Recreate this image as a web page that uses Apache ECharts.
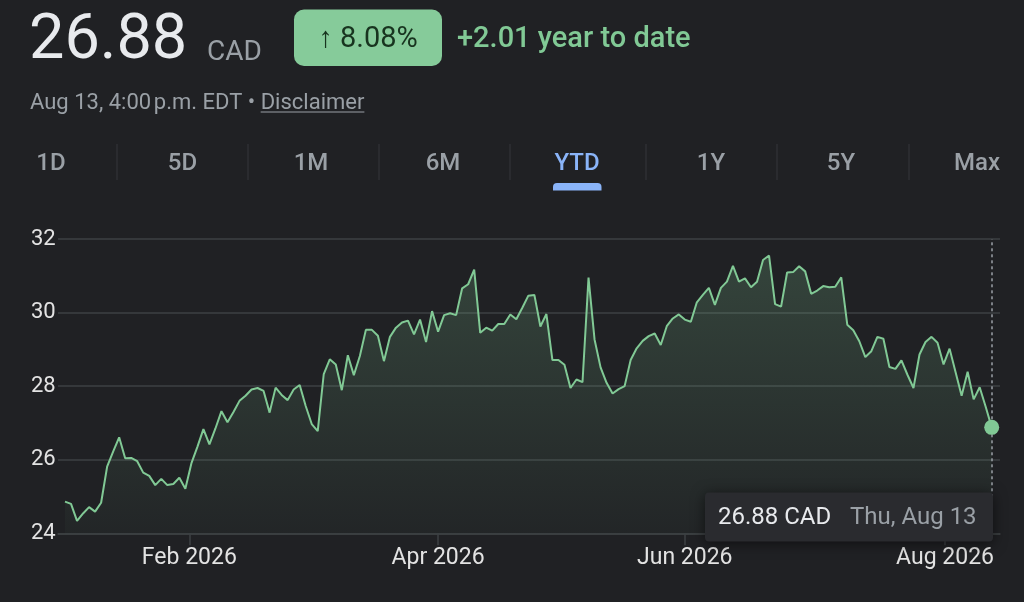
<!DOCTYPE html>
<html>
<head>
<meta charset="utf-8">
<script src="https://cdn.jsdelivr.net/npm/echarts@6/dist/echarts.min.js"></script>
<style>
html,body{margin:0;padding:0;background:#202124;}
#chart{width:1024px;height:602px;}
</style>
</head>
<body>
<div id="chart"></div>
<script>
// ---- Data ----
const startDate = '2026-01-02';
const endDate = '2026-08-13';
const holidays = ['2026-01-01','2026-02-16','2026-04-03','2026-05-18','2026-07-01','2026-08-03'];

const pricesJan = [24.86,24.80,24.34,24.54,24.71,24.59,24.83,25.81,26.22,26.61,26.04,26.05,25.96,25.65,25.56,25.31,25.48,25.31,25.34,25.51,25.21];
const pricesFeb = [25.90,26.35,26.83,26.42,26.85,27.32,27.02,27.30,27.60,27.74,27.91,27.95,27.87,27.28,27.96,27.76,27.62,27.91,28.03];
const pricesMar = [27.46,26.97,26.78,28.33,28.73,28.59,27.89,28.84,28.30,28.82,29.53,29.53,29.37,28.68,29.34,29.59,29.73,29.78,29.41,29.81,29.20,30.04];
const pricesApr = [29.48,29.93,29.98,29.93,30.66,30.77,31.17,29.45,29.59,29.51,29.69,29.69,29.95,29.82,30.13,30.46,30.48,29.62,29.96,28.71,28.71];
const pricesMay = [28.58,27.95,28.18,28.11,30.95,29.27,28.51,28.09,27.80,27.92,28.00,28.71,29.03,29.23,29.36,29.43,29.12,29.63,29.84,29.95];
const pricesJun = [29.81,29.75,30.28,30.48,30.67,30.21,30.67,30.84,31.27,30.84,30.93,30.69,30.84,31.43,31.55,30.23,30.16,31.09,31.10,31.26,31.12,30.51];
const pricesJul = [30.60,30.72,30.69,30.70,30.96,29.67,29.52,29.22,28.79,28.95,29.34,29.29,28.52,28.47,28.70,28.31,27.95,28.86,29.20,29.34,29.18,28.59];
const pricesAug = [29.02,28.38,27.74,28.39,27.64,27.97,27.44,26.88];

const yTicks = [24, 26, 28, 30, 32];
const monthTickDates = ['2026-02-01','2026-04-01','2026-06-01','2026-08-01'];
const monthTickLabels = ['Feb 2026','Apr 2026','Jun 2026','Aug 2026'];

const headerPrice = '26.88';
const headerCurrency = 'CAD';
const headerChangePct = '\u2191 8.08%';
const headerChangeAbs = '+2.01 year to date';
const headerDateLine = 'Aug 13, 4:00\u202Fp.m. EDT \u2022 ';
const headerDisclaimer = 'Disclaimer';
const tabs = ['1D','5D','1M','6M','YTD','1Y','5Y','Max'];
const activeTab = 'YTD';

// ---- Build ----
const prices = [].concat(pricesJan, pricesFeb, pricesMar, pricesApr, pricesMay, pricesJun, pricesJul, pricesAug);
const DAY = 86400000;
function t(s){ const p = s.split('-'); return Date.UTC(+p[0], +p[1]-1, +p[2]); }
const dates = [];
for (let d = t(startDate); d <= t(endDate); d += DAY) {
  const dt = new Date(d);
  const wd = dt.getUTCDay();
  const iso = dt.toISOString().slice(0,10);
  if (wd !== 0 && wd !== 6 && holidays.indexOf(iso) < 0) dates.push(d);
}
function idxForTime(tt){
  for (let i = 0; i < dates.length - 1; i++) {
    if (tt >= dates[i] && tt < dates[i+1]) return i + (tt - dates[i]) / (dates[i+1] - dates[i]);
  }
  return dates.length - 1;
}
const tickIdx = monthTickDates.map(s => idxForTime(t(s)));
const lastIdx = prices.length - 1;
const lastVal = prices[lastIdx];
const lastDate = new Date(dates[lastIdx]);
const wdNames = ['Sun','Mon','Tue','Wed','Thu','Fri','Sat'];
const mNames = ['Jan','Feb','Mar','Apr','May','Jun','Jul','Aug','Sep','Oct','Nov','Dec'];
const lastDateLabel = wdNames[lastDate.getUTCDay()] + ', ' + mNames[lastDate.getUTCMonth()] + ' ' + lastDate.getUTCDate();

const FONT = 'Roboto, "Noto Sans", sans-serif';
const ctx = document.createElement('canvas').getContext('2d');
ctx.font = '400 22px Roboto';
const dateLineW = ctx.measureText(headerDateLine).width;
const disclaimerW = ctx.measureText(headerDisclaimer).width;

// layout (pixels)
const gridLeft = 58, gridRight = 24, gridTop = 239, gridBottom = 68.7;
const firstPx = 65, lastPx = 991.7;
const pxPerIdx = (lastPx - firstPx) / lastIdx;
const xMin = -(firstPx - gridLeft) / pxPerIdx;
const xMax = lastIdx + ((1024 - gridRight) - lastPx) / pxPerIdx;

const gridColor = '#3c4043';
const green = '#81c995';

const tabCenters = [51, 182.5, 311, 443, 577, 711, 841, 977];
const sepXs = [117, 248, 379, 510, 646, 777, 909];

const g = [];
g.push({type:'text', x:29, y:42, style:{text:headerPrice, fill:'#e8eaed', font:'400 63px '+FONT, verticalAlign:'middle', align:'left'}});
g.push({type:'text', x:207, y:53, style:{text:headerCurrency, fill:'#9aa0a6', font:'400 28px '+FONT, verticalAlign:'middle', align:'left'}});
g.push({type:'rect', shape:{x:294, y:9.5, width:148, height:56.5, r:10}, style:{fill:'#86cb9a'}});
g.push({type:'text', x:368, y:40, style:{text:headerChangePct, fill:'#18341f', font:'400 29px '+FONT, verticalAlign:'middle', align:'center'}});
g.push({type:'text', x:457, y:40, style:{text:headerChangeAbs, fill:green, font:'500 29px '+FONT, verticalAlign:'middle', align:'left'}});
g.push({type:'text', x:30, y:103, style:{text:headerDateLine, fill:'#9aa0a6', font:'400 22px '+FONT, verticalAlign:'middle', align:'left'}});
g.push({type:'text', x:30 + dateLineW, y:103, style:{text:headerDisclaimer, fill:'#9aa0a6', font:'400 22px '+FONT, verticalAlign:'middle', align:'left'}});
g.push({type:'line', shape:{x1:30 + dateLineW, y1:112, x2:30 + dateLineW + disclaimerW, y2:112}, style:{stroke:'#9aa0a6', lineWidth:1}});
tabs.forEach((tb, i) => {
  g.push({type:'text', x:tabCenters[i], y:164, style:{text:tb, fill: tb === activeTab ? '#8ab4f8' : '#9aa0a6', font:'500 24px '+FONT, verticalAlign:'middle', align:'center'}});
});
sepXs.forEach(x => g.push({type:'line', shape:{x1:x, y1:144, x2:x, y2:180}, style:{stroke:'#34373a', lineWidth:1}}));
g.push({type:'rect', shape:{x:553, y:183, width:48.5, height:7.5, r:[4,4,0,0]}, style:{fill:'#8ab4f8'}});
// hover card
g.push({type:'rect', z:100, shape:{x:705, y:492.5, width:288, height:49, r:4}, style:{fill:'#2a2b2f', shadowBlur:14, shadowColor:'rgba(0,0,0,0.55)', shadowOffsetY:2}});
g.push({type:'text', z:101, x:718, y:518, style:{text: lastVal.toFixed(2) + ' CAD', fill:'#e8eaed', font:'400 24px '+FONT, verticalAlign:'middle', align:'left'}});
g.push({type:'text', z:101, x:850, y:518, style:{text: lastDateLabel, fill:'#9aa0a6', font:'400 24px '+FONT, verticalAlign:'middle', align:'left'}});

const chart = echarts.init(document.getElementById('chart'), null, {renderer:'canvas'});
chart.setOption({
  backgroundColor:'#202124',
  animation:false,
  grid:{left:gridLeft, right:gridRight, top:gridTop, bottom:gridBottom, containLabel:false},
  xAxis:{
    type:'value', min:xMin, max:xMax,
    axisLine:{show:true, onZero:false, lineStyle:{color:gridColor, width:1.5}},
    axisTick:{show:true, customValues:tickIdx, length:12, lineStyle:{color:gridColor, width:1.5}},
    axisLabel:{show:true, customValues:tickIdx, color:'#e3e3e3', fontSize:23, fontFamily:FONT, margin:13,
      formatter:function(v){ let best=0; for(let i=1;i<tickIdx.length;i++){ if(Math.abs(tickIdx[i]-v)<Math.abs(tickIdx[best]-v)) best=i; } return monthTickLabels[best]; }},
    splitLine:{show:false}
  },
  yAxis:{
    type:'value', min:yTicks[0], max:yTicks[yTicks.length-1], interval:yTicks[1]-yTicks[0],
    axisLine:{show:false}, axisTick:{show:false},
    axisLabel:{color:'#e3e3e3', fontSize:22, fontFamily:FONT, align:'left', margin:gridLeft-31},
    splitLine:{show:true, lineStyle:{color:gridColor, width:1.5}}
  },
  series:[{
    type:'line',
    data:prices.map((v,i)=>[i,v]),
    showSymbol:false,
    silent:true,
    lineStyle:{color:green, width:2},
    areaStyle:{color:new echarts.graphic.LinearGradient(0,0,0,1,[
      {offset:0, color:'rgba(129,201,149,0.30)'},
      {offset:1, color:'rgba(129,201,149,0.04)'}
    ])},
    markLine:{silent:true, symbol:['none','none'], label:{show:false},
      lineStyle:{color:'#9aa0a6', width:1.5, type:[3,3]},
      data:[{xAxis:lastIdx}]},
    markPoint:{silent:true, symbol:'circle', symbolSize:15, label:{show:false},
      itemStyle:{color:green},
      data:[{coord:[lastIdx, lastVal]}]}
  }],
  graphic:g
});
</script>
</body>
</html>
